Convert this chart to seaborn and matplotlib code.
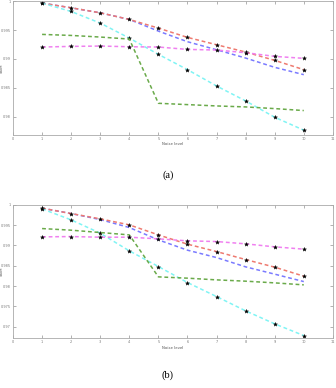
import numpy as np
import pandas as pd
import matplotlib
matplotlib.use("Agg")
import matplotlib.pyplot as plt
import seaborn as sns

noise = [1, 2, 3, 4, 5, 6, 7, 8, 9, 10]

# panel (a)
a_red = [0.99966, 0.99885, 0.99798, 0.99683, 0.99533, 0.99372, 0.99245, 0.99118, 0.98974, 0.98813]
a_blue = [0.99966, 0.99885, 0.99798, 0.99683, 0.99481, 0.99297, 0.99158, 0.99014, 0.98853, 0.98726]
a_cyan = [0.99966, 0.99821, 0.99620, 0.99360, 0.99078, 0.98813, 0.98530, 0.98271, 0.97988, 0.97764]
a_green = [0.99424, 0.99406, 0.99378, 0.99343, 0.98230, 0.98207, 0.98184, 0.98167, 0.98138, 0.98104]
a_magenta = [0.99205, 0.99216, 0.99222, 0.99210, 0.99205, 0.99164, 0.99153, 0.99107, 0.99043, 0.99009]

# panel (b)
b_red = [0.99918, 0.99786, 0.99655, 0.99507, 0.99260, 0.99031, 0.98849, 0.98652, 0.98464, 0.98242]
b_blue = [0.99918, 0.99786, 0.99638, 0.99441, 0.99137, 0.98883, 0.98701, 0.98472, 0.98292, 0.98109]
b_cyan = [0.99901, 0.99630, 0.99302, 0.98866, 0.98480, 0.98085, 0.97740, 0.97387, 0.97067, 0.96778]
b_green = [0.99416, 0.99376, 0.99318, 0.99260, 0.98225, 0.98193, 0.98151, 0.98119, 0.98077, 0.98028]
b_magenta = [0.99211, 0.99219, 0.99203, 0.99203, 0.99162, 0.99113, 0.99096, 0.99039, 0.98965, 0.98908]

a_yticks = [0.98, 0.985, 0.99, 0.995, 1]
a_ylabels = ['0.98', '0.985', '0.99', '0.995', '1']
b_yticks = [0.97, 0.975, 0.98, 0.985, 0.99, 0.995, 1]
b_ylabels = ['0.97', '0.975', '0.98', '0.985', '0.99', '0.995', '1']

colors = {'blue': '#7a7aff', 'red': '#ee7a70', 'cyan': '#80f4f4',
          'green': '#6aaa4a', 'magenta': '#f080f0'}


def draw(ax, series, ylim, yticks, ylabels):
    for name, vals, mark in series:
        df = pd.DataFrame({'x': noise, 'y': vals})
        kw = {}
        if mark:
            kw = dict(marker='*', markersize=3, markerfacecolor='k',
                      markeredgecolor='k', markeredgewidth=0.3)
        sns.lineplot(data=df, x='x', y='y', ax=ax, color=colors[name],
                     linewidth=1.1, dashes=False, **kw)
        ax.lines[-1].set_dashes([2.5, 1.8])
    ax.set_xlim(0, 11)
    ax.set_ylim(*ylim)
    ax.set_xticks(range(0, 12))
    ax.set_yticks(yticks)
    ax.set_yticklabels(ylabels)
    ax.tick_params(direction='in', top=True, right=True, labelsize=2.5,
                   colors='#777777', length=2, width=0.4, pad=1.5)
    for s in ax.spines.values():
        s.set_color('#aaaaaa')
        s.set_linewidth(0.6)
    ax.set_xlabel('Noise level', fontsize=2.8, color='#555555', labelpad=1)
    ax.set_ylabel('SSIM', fontsize=2.8, color='#555555')
    ax.yaxis.set_label_coords(-0.028, 0.5)


fig = plt.figure(figsize=(3.36, 3.88), dpi=100)
ax1 = fig.add_axes([0.0387, 0.652, 0.952, 0.345])
ax2 = fig.add_axes([0.0387, 0.128, 0.952, 0.344])

draw(ax1, [('blue', a_blue, False), ('red', a_red, True), ('cyan', a_cyan, True),
           ('green', a_green, False), ('magenta', a_magenta, True)],
     (0.9768, 1.0), a_yticks, a_ylabels)
draw(ax2, [('blue', b_blue, False), ('red', b_red, True), ('cyan', b_cyan, True),
           ('green', b_green, False), ('magenta', b_magenta, True)],
     (0.9671, 1.0), b_yticks, b_ylabels)

fig.text(0.5, 1 - 175 / 388, '(a)', ha='center', va='center',
         fontsize=7.5, family='Liberation Serif')
fig.text(0.5, 1 - 375 / 388, '(b)', ha='center', va='center',
         fontsize=7.5, family='Liberation Serif')

fig.savefig('out.png', dpi=100)
